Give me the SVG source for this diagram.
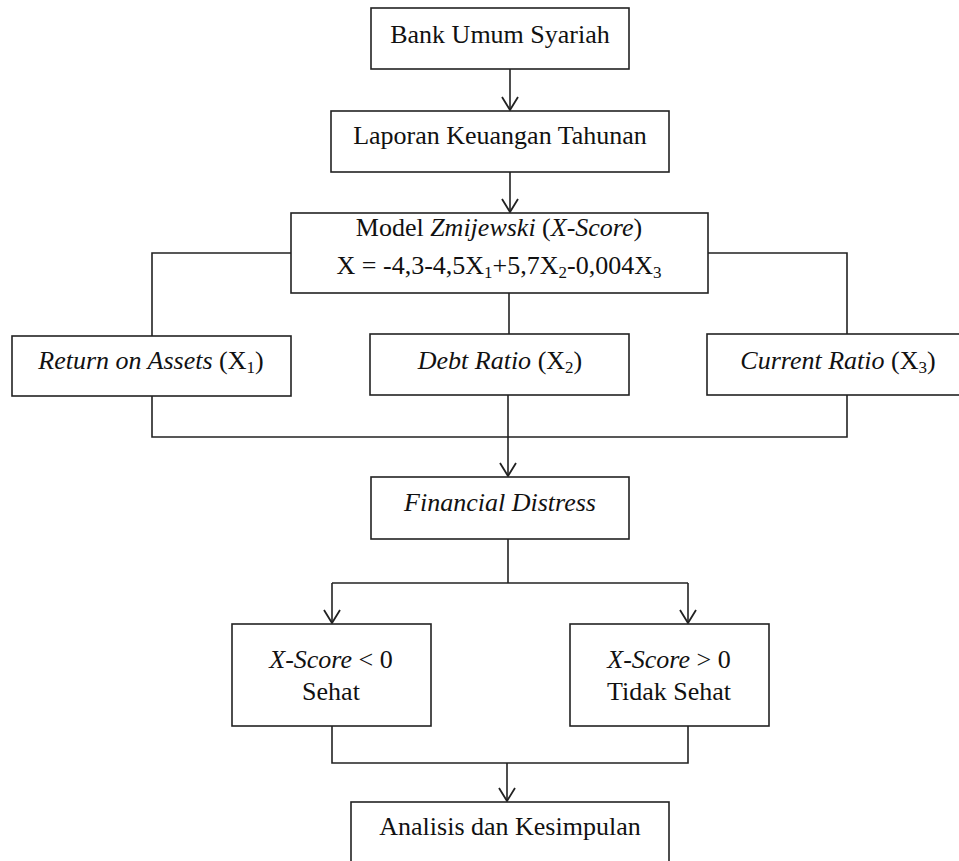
<svg xmlns="http://www.w3.org/2000/svg" width="959" height="861" viewBox="0 0 959 861">
<style>
.box{fill:#fff;stroke:#222;stroke-width:1.6}
.ln{fill:none;stroke:#222;stroke-width:1.6}
text{font-family:"Liberation Serif","Times New Roman",serif;font-size:26px;fill:#111;text-anchor:middle}
.i{font-style:italic}
.sub{font-size:17px}
</style>
<defs>
<marker id="arr" viewBox="0 0 16 20" refX="14" refY="10" markerWidth="16" markerHeight="20" markerUnits="userSpaceOnUse" orient="auto">
<path d="M1,2 L14,10 L1,18" fill="none" stroke="#222" stroke-width="1.8"/>
</marker>
</defs>
<rect width="959" height="861" fill="#fff"/>
<g id="connectors">
<line class="ln" x1="510" y1="69" x2="510" y2="110" marker-end="url(#arr)"/>
<line class="ln" x1="510" y1="172" x2="510" y2="212" marker-end="url(#arr)"/>
<polyline class="ln" points="291,253 152,253 152,336"/>
<polyline class="ln" points="708,253 847,253 847,334"/>
<line class="ln" x1="509" y1="293" x2="509" y2="334"/>
<polyline class="ln" points="152,396 152,437 847,437 847,395"/>
<line class="ln" x1="508" y1="395" x2="508" y2="476" marker-end="url(#arr)"/>
<line class="ln" x1="508" y1="539" x2="508" y2="583"/>
<polyline class="ln" points="332,583 688,583"/>
<line class="ln" x1="332" y1="583" x2="332" y2="623" marker-end="url(#arr)"/>
<line class="ln" x1="688" y1="583" x2="688" y2="623" marker-end="url(#arr)"/>
<polyline class="ln" points="332,726 332,763 688,763 688,726"/>
<line class="ln" x1="507" y1="763" x2="507" y2="801" marker-end="url(#arr)"/>
</g>
<g id="n1">
<rect class="box" x="371" y="8" width="258" height="61"/>
<text x="500" y="43">Bank Umum Syariah</text>
</g>
<g id="n2">
<rect class="box" x="331" y="111" width="338" height="61"/>
<text x="500" y="144">Laporan Keuangan Tahunan</text>
</g>
<g id="n3">
<rect class="box" x="291" y="213" width="417" height="80"/>
<text x="499" y="236">Model <tspan class="i">Zmijewski</tspan> (<tspan class="i">X-Score</tspan>)</text>
<text x="499" y="274">X = -4,3-4,5X<tspan class="sub" dy="4">1</tspan><tspan dy="-4">+5,7X</tspan><tspan class="sub" dy="4">2</tspan><tspan dy="-4">-0,004X</tspan><tspan class="sub" dy="4">3</tspan></text>
</g>
<g id="n4">
<rect class="box" x="12" y="336" width="279" height="60"/>
<text x="151" y="369"><tspan class="i">Return on Assets</tspan> (X<tspan class="sub" dy="4">1</tspan><tspan dy="-4">)</tspan></text>
</g>
<g id="n5">
<rect class="box" x="370" y="334" width="259" height="61"/>
<text x="500" y="369"><tspan class="i">Debt Ratio</tspan> (X<tspan class="sub" dy="4">2</tspan><tspan dy="-4">)</tspan></text>
</g>
<g id="n6">
<rect class="box" x="707" y="334" width="262" height="61"/>
<text x="838" y="369"><tspan class="i">Current Ratio</tspan> (X<tspan class="sub" dy="4">3</tspan><tspan dy="-4">)</tspan></text>
</g>
<g id="n7">
<rect class="box" x="371" y="477" width="258" height="62"/>
<text x="500" y="511" class="i">Financial Distress</text>
</g>
<g id="n8">
<rect class="box" x="232" y="624" width="199" height="102"/>
<text x="331" y="668"><tspan class="i">X-Score</tspan> &lt; 0</text>
<text x="331" y="700">Sehat</text>
</g>
<g id="n9">
<rect class="box" x="570" y="624" width="199" height="102"/>
<text x="669" y="668"><tspan class="i">X-Score</tspan> &gt; 0</text>
<text x="669" y="700">Tidak Sehat</text>
</g>
<g id="n10">
<rect class="box" x="351" y="802" width="318" height="80"/>
<text x="510" y="835">Analisis dan Kesimpulan</text>
</g>
</svg>
